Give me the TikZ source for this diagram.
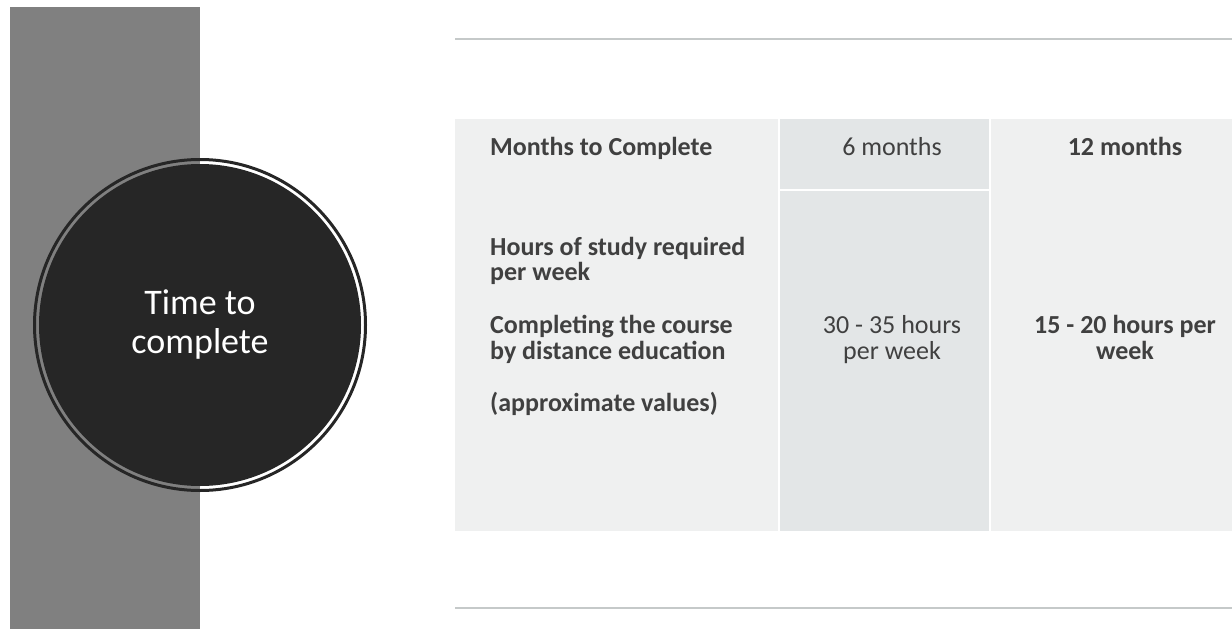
\documentclass[tikz,border=0pt]{standalone}
\usepackage{fontspec}
\setmainfont{Carlito}
\usepackage{xcolor}
\usetikzlibrary{positioning,calc}
\definecolor{barGray}{HTML}{808080}
\definecolor{hubDark}{HTML}{262626}
\definecolor{cellPale}{HTML}{EFF0F0}
\definecolor{cellShade}{HTML}{E3E6E7}
\definecolor{ruleGray}{HTML}{C5C9C9}
\definecolor{textGray}{HTML}{404040}
\tikzset{cellLight/.style={rectangle,fill=cellPale,inner sep=0pt,anchor=north west},
		cellDark/.style={rectangle,fill=cellShade,inner sep=0pt,anchor=north west},
		hub/.style={circle,fill=hubDark,inner sep=0pt,minimum size=322pt},
		hubRing/.style={draw=hubDark,line width=3pt},
		hubText/.style={text=white,font=\fontsize{36}{36}\selectfont,anchor=base,inner sep=0pt},
		rowHead/.style={text=textGray,font=\bfseries\fontsize{26}{26}\selectfont,anchor=base west,inner sep=0pt},
		valPlain/.style={text=textGray,font=\fontsize{26}{26}\selectfont,anchor=base,inner sep=0pt},
		valBold/.style={text=textGray,font=\bfseries\fontsize{26}{26}\selectfont,anchor=base,inner sep=0pt},
		rule/.style={draw=ruleGray,line width=2pt},
		every node/.style={align=center}}
\begin{document}
\begin{tikzpicture}[x=1pt,y=-1pt]
\useasboundingbox (0,0) rectangle (1232,629);
% side bar and circle
\fill[barGray] (10,7) rectangle (200,629);
\node[hub] (timeHub) at (200,325) {};
\draw[hubRing] (timeHub.center) circle[radius=165.5pt];
\node[hubText] (hubTop) at (200,314) {Time to};
\node[hubText] (hubBot) at (200,353) {complete};
% rules
\draw[rule] (455,39) -- (1232,39);
\draw[rule] (455,608) -- (1232,608);
% table cells
\node[cellLight,minimum width=323pt,minimum height=412pt] (colLabel) at (455,119) {};
\node[cellDark,minimum width=209pt,minimum height=70pt] (sixHead) at (780,119) {};
\node[cellDark,minimum width=209pt,minimum height=340pt] (sixBody) at (780,191) {};
\node[cellLight,minimum width=241pt,minimum height=412pt] (twelveCol) at (991,119) {};
% header row
\node[rowHead] (monthsLbl) at (490,155) {Months to Complete};
\node[valPlain] (sixMo) at (892,155) {6 months};
\node[valBold] (twelveMo) at (1125,155) {12 months};
% label column
\node[rowHead] (hoursA) at (490,255) {Hours of study required};
\node[rowHead] (hoursB) at (490,280) {per week};
\node[rowHead] (distA) at (490,333) {Completing the course};
\node[rowHead] (distB) at (490,359) {by distance education};
\node[rowHead] (approx) at (490,411) {(approximate values)};
% values
\node[valPlain] (sixA) at (892,333) {30 - 35 hours};
\node[valPlain] (sixB) at (892,359) {per week};
\node[valBold] (twelveA) at (1125,333) {15 - 20 hours per};
\node[valBold] (twelveB) at (1125,359) {week};
\end{tikzpicture}
\end{document}
